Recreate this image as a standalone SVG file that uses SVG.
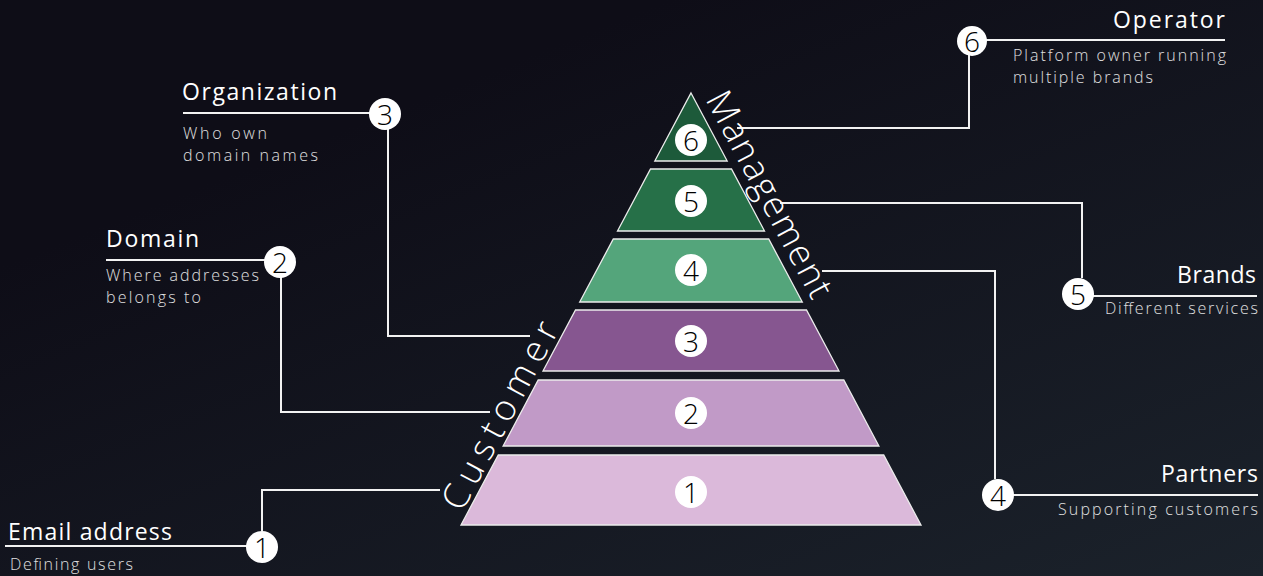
<svg xmlns="http://www.w3.org/2000/svg" width="1263" height="576" viewBox="0 0 1263 576">
<defs>
<linearGradient id="bg" x1="0.3" y1="0.2" x2="1" y2="1">
<stop offset="0" stop-color="#0e0d17"/>
<stop offset="1" stop-color="#1b222b"/>
</linearGradient>
<style>
.layer{stroke:#ececec;stroke-width:1.3}
.num{font-family:"Open Sans","Liberation Sans",sans-serif;font-weight:300;font-size:28px;fill:#000;text-anchor:middle;dominant-baseline:central}
.dot{fill:#fff}
.title{font-family:"Open Sans","Liberation Sans",sans-serif;font-size:23px;fill:#fff}
.desc{font-family:"Open Sans","Liberation Sans",sans-serif;font-weight:300;font-size:16px;fill:#e0e0e0}
.side{font-family:"Open Sans","Liberation Sans",sans-serif;font-weight:300;font-size:36px;fill:#fff}
.conn{fill:none;stroke:#f2f2f2;stroke-width:2}
.end{text-anchor:end}
</style>
</defs>
<rect width="1263" height="576" fill="url(#bg)"/>

<g id="connectors">
<polyline class="conn" points="5,546 262,546"/>
<polyline class="conn" points="262,531 262,490 440,490"/>
<polyline class="conn" points="106,260 280,260"/>
<polyline class="conn" points="281,277 281,412 490,412"/>
<polyline class="conn" points="183,113 385,113"/>
<polyline class="conn" points="388,129 388,336 530,336"/>
<polyline class="conn" points="972,40 1225,40"/>
<polyline class="conn" points="969,55 969,128 737,128"/>
<polyline class="conn" points="1078,296 1257,296"/>
<polyline class="conn" points="1082,278 1082,203 780,203"/>
<polyline class="conn" points="998,495 1258,495"/>
<polyline class="conn" points="995,479 995,271 822,271"/>
</g>

<g id="layer-6">
<polygon class="layer" fill="#1d5a3a" points="691,93 727.2,161 654.8,161"/>
<circle class="dot" cx="691" cy="140" r="16"/>
<text class="num" x="691" y="140">6</text>
</g>
<g id="layer-5">
<polygon class="layer" fill="#267048" points="650.5,169 731.5,169 764.5,231 617.5,231"/>
<circle class="dot" cx="691" cy="201" r="16"/>
<text class="num" x="691" y="201">5</text>
</g>
<g id="layer-4">
<polygon class="layer" fill="#54a57b" points="613.3,239 768.7,239 802.3,302 579.7,302"/>
<circle class="dot" cx="691" cy="270" r="16"/>
<text class="num" x="691" y="270">4</text>
</g>
<g id="layer-3">
<polygon class="layer" fill="#865690" points="575.5,310 806.5,310 839,371 543,371"/>
<circle class="dot" cx="691" cy="341" r="16"/>
<text class="num" x="691" y="341">3</text>
</g>
<g id="layer-2">
<polygon class="layer" fill="#c19ac7" points="538.2,380 843.8,380 878.9,446 503.1,446"/>
<circle class="dot" cx="691" cy="413" r="16"/>
<text class="num" x="691" y="413">2</text>
</g>
<g id="layer-1">
<polygon class="layer" fill="#dbb9da" points="498.3,455 883.7,455 921,525 461,525"/>
<circle class="dot" cx="691" cy="492" r="16"/>
<text class="num" x="691" y="492">1</text>
</g>

<g id="side-labels">
<text class="side" transform="translate(705,99) rotate(62)" textLength="229" lengthAdjust="spacing">Management</text>
<text class="side" transform="translate(462,513) rotate(-62)" textLength="208" lengthAdjust="spacing">Customer</text>
</g>

<g id="label-1">
<circle class="dot" cx="262" cy="547" r="16"/>
<text class="num" x="262" y="547">1</text>
<text class="title" x="8" y="540" textLength="164" lengthAdjust="spacing">Email address</text>
<text class="desc" x="10" y="570" textLength="123" lengthAdjust="spacing">Defining users</text>
</g>
<g id="label-2">
<circle class="dot" cx="280" cy="262" r="16"/>
<text class="num" x="280" y="262">2</text>
<text class="title" x="106" y="247" textLength="93" lengthAdjust="spacing">Domain</text>
<text class="desc" x="106" y="281" textLength="153" lengthAdjust="spacing">Where addresses</text>
<text class="desc" x="106" y="303" textLength="95" lengthAdjust="spacing">belongs to</text>
</g>
<g id="label-3">
<circle class="dot" cx="385" cy="114" r="16"/>
<text class="num" x="385" y="114">3</text>
<text class="title" x="182" y="100" textLength="155" lengthAdjust="spacing">Organization</text>
<text class="desc" x="183" y="139" textLength="84" lengthAdjust="spacing">Who own</text>
<text class="desc" x="183" y="161" textLength="135" lengthAdjust="spacing">domain names</text>
</g>
<g id="label-4">
<circle class="dot" cx="998" cy="495" r="16"/>
<text class="num" x="998" y="495">4</text>
<text class="title end" x="1258" y="482" textLength="97" lengthAdjust="spacing">Partners</text>
<text class="desc end" x="1258" y="515" textLength="200" lengthAdjust="spacing">Supporting customers</text>
</g>
<g id="label-5">
<circle class="dot" cx="1078" cy="294" r="16"/>
<text class="num" x="1078" y="294">5</text>
<text class="title end" x="1256" y="283" textLength="79" lengthAdjust="spacing">Brands</text>
<text class="desc end" x="1258" y="314" textLength="153" lengthAdjust="spacing">Different services</text>
</g>
<g id="label-6">
<circle class="dot" cx="972" cy="41" r="15"/>
<text class="num" x="972" y="41">6</text>
<text class="title end" x="1225" y="28" textLength="112" lengthAdjust="spacing">Operator</text>
<text class="desc" x="1013" y="61" textLength="213" lengthAdjust="spacing">Platform owner running</text>
<text class="desc" x="1013" y="83" textLength="140" lengthAdjust="spacing">multiple brands</text>
</g>
</svg>
